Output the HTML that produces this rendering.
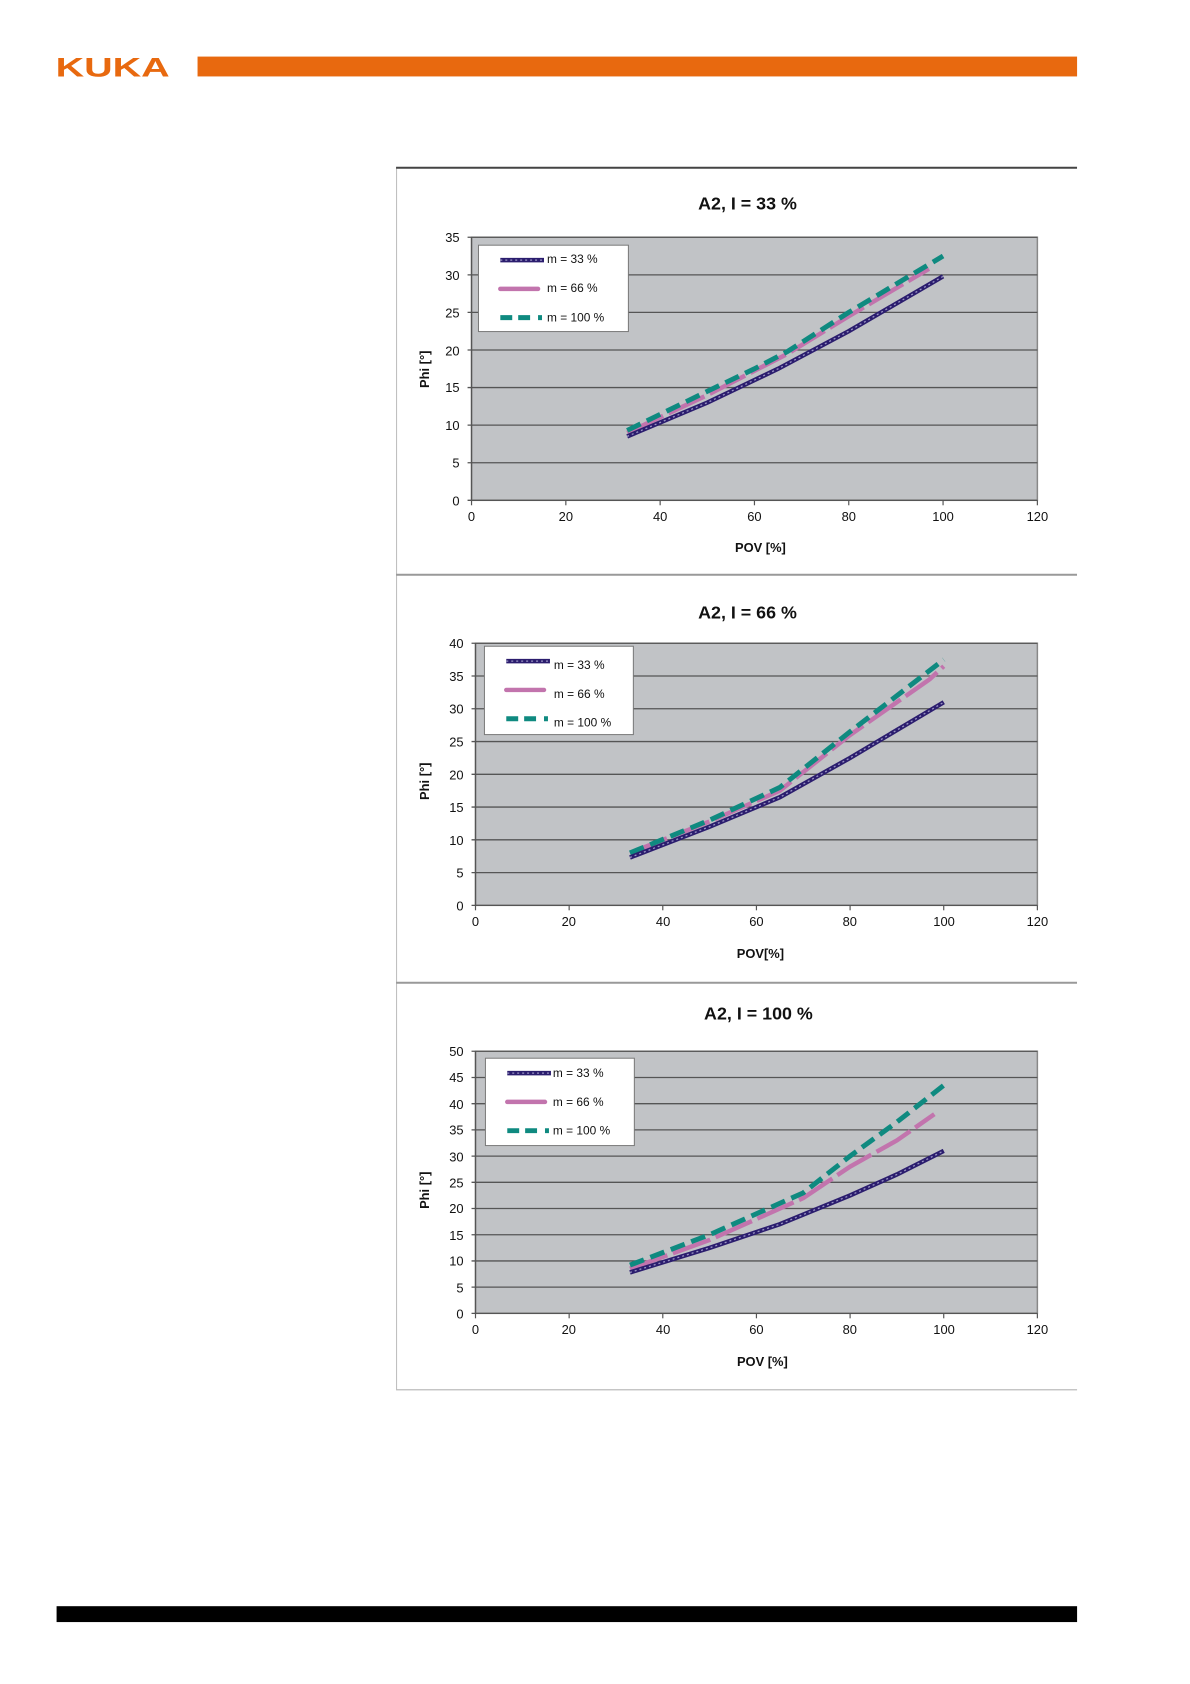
<!DOCTYPE html>
<html><head><meta charset="utf-8"><style>
html,body{margin:0;padding:0;background:#fff;}
svg{display:block;}
text{font-family:"Liberation Sans",Arial,sans-serif;}
</style></head><body>
<svg id="s" width="1190" height="1684" viewBox="0 0 1190 1684" xmlns="http://www.w3.org/2000/svg">
<rect width="1190" height="1684" fill="#fff"/>
<g transform="scale(0.9927)">
<text x="56" y="77" font-size="27" font-weight="bold" fill="#e8690f" textLength="115" lengthAdjust="spacingAndGlyphs">KUKA</text>
<rect x="199" y="57" width="886" height="20" fill="#e8690f"/>
<rect x="57" y="1618" width="1028" height="16" fill="#000"/>
<rect x="399.5" y="169" width="690" height="1231" fill="#fff" stroke="#bbb" stroke-width="1"/>
<line x1="399" y1="169" x2="1085" y2="169" stroke="#444" stroke-width="2"/>
<line x1="399" y1="579" x2="1085" y2="579" stroke="#999" stroke-width="2"/>
<line x1="399" y1="990" x2="1085" y2="990" stroke="#999" stroke-width="2"/>
<line x1="399" y1="1400" x2="1085" y2="1400" stroke="#bbb" stroke-width="1"/>
<rect x="1085" y="160" width="10" height="1250" fill="#fff"/>

<g id="c1"></g><g id="c2"></g><g id="c3"></g>

<g font-size="13" fill="#111" text-anchor="end">
<text x="463" y="509">0</text><text x="463" y="471">5</text><text x="463" y="433">10</text><text x="463" y="395">15</text><text x="463" y="358">20</text><text x="463" y="320">25</text><text x="463" y="282">30</text><text x="463" y="244">35</text>
<text x="467" y="917">0</text><text x="467" y="884">5</text><text x="467" y="851">10</text><text x="467" y="818">15</text><text x="467" y="785">20</text><text x="467" y="752">25</text><text x="467" y="719">30</text><text x="467" y="686">35</text><text x="467" y="653">40</text>
<text x="467" y="1328">0</text><text x="467" y="1302">5</text><text x="467" y="1275">10</text><text x="467" y="1249">15</text><text x="467" y="1222">20</text><text x="467" y="1196">25</text><text x="467" y="1170">30</text><text x="467" y="1143">35</text><text x="467" y="1117">40</text><text x="467" y="1090">45</text><text x="467" y="1064">50</text>
</g>
<g font-size="13" fill="#111" text-anchor="middle">
<text x="475" y="525">0</text><text x="570" y="525">20</text><text x="665" y="525">40</text><text x="760" y="525">60</text><text x="855" y="525">80</text><text x="950" y="525">100</text><text x="1045" y="525">120</text>
<text x="479" y="933">0</text><text x="573" y="933">20</text><text x="668" y="933">40</text><text x="762" y="933">60</text><text x="856" y="933">80</text><text x="951" y="933">100</text><text x="1045" y="933">120</text>
<text x="479" y="1344">0</text><text x="573" y="1344">20</text><text x="668" y="1344">40</text><text x="762" y="1344">60</text><text x="856" y="1344">80</text><text x="951" y="1344">100</text><text x="1045" y="1344">120</text>
</g>
<g font-weight="bold" text-anchor="middle" fill="#111">
<text x="753" y="211" font-size="18">A2,  I = 33 %</text>
<text x="753" y="623" font-size="18">A2,  I = 66 %</text>
<text x="764" y="1027" font-size="18">A2,  I = 100 %</text>
<text x="766" y="556" font-size="13">POV [%]</text>
<text x="766" y="965" font-size="13">POV[%]</text>
<text x="768" y="1376" font-size="13">POV [%]</text>
<text transform="translate(432,372) rotate(-90)" font-size="13">Phi [°]</text>
<text transform="translate(432,787) rotate(-90)" font-size="13">Phi [°]</text>
<text transform="translate(432,1199) rotate(-90)" font-size="13">Phi [°]</text>
</g>
<g id="leg"></g>
<g font-size="12" fill="#111">
<text x="551" y="265">m = 33 %</text><text x="551" y="294">m = 66 %</text><text x="551" y="324">m = 100 %</text>
<text x="558" y="674">m = 33 %</text><text x="558" y="703">m = 66 %</text><text x="558" y="732">m = 100 %</text>
<text x="557" y="1085">m = 33 %</text><text x="557" y="1114">m = 66 %</text><text x="557" y="1143">m = 100 %</text>
</g>
</g>
</svg>
<script>
var NS="http://www.w3.org/2000/svg";
function el(p,t,a){var e=document.createElementNS(NS,t);for(var k in a)e.setAttribute(k,a[k]);p.appendChild(e);return e;}
var charts=[
 {g:"c1",x0:475,x1:1045,y0:504,y1:239,ymax:35,step:5,leg:[482,247,151,87],
  s:[[[33,8.5],[50,13],[65,17.5],[80,22.5],[100,29.8]],
     [[33,9],[50,14],[67,19.5],[80,24.5],[97,30.8]],
     [[33,9.3],[50,14.5],[60,17.5],[67,19.8],[80,25],[92,29.5],[100,32.5]]]},
 {g:"c2",x0:479,x1:1045,y0:912,y1:648,ymax:40,step:5,leg:[488,651,150,89],
  s:[[[33,7.3],[50,12],[65,16.5],[80,22.5],[100,31]],
     [[33,8],[50,12.8],[65,17.5],[80,26],[97,34.5],[100,36.5]],
     [[33,8],[50,13],[65,18],[80,26.5],[100,37.5]]]},
 {g:"c3",x0:479,x1:1045,y0:1323,y1:1059,ymax:50,step:5,leg:[489,1066,150,88],
  s:[[[33,7.8],[50,12.5],[65,17],[80,22.5],[90,26.5],[100,31]],
     [[33,8.5],[50,14],[60,18],[70,22],[80,28],[90,33],[98,38]],
     [[33,9.2],[50,15],[60,19],[70,23],[80,30],[90,36.5],[100,43.5]]]}
];
var cols=["#2b1d6e","#c274ad","#0f8a80"];
charts.forEach(function(c){
 var g=document.getElementById(c.g);
 var W=c.x1-c.x0,H=c.y0-c.y1;
 el(g,"rect",{x:c.x0,y:c.y1,width:W,height:H,fill:"#c1c3c6",stroke:"#888","stroke-width":1.5});
 for(var v=0;v<=c.ymax;v+=c.step){var y=c.y0-v/c.ymax*H;
  el(g,"line",{x1:c.x0-4,x2:c.x1,y1:y,y2:y,stroke:"#555","stroke-width":1.3});}
 for(var i=0;i<=6;i++){var x=c.x0+i*W/6;el(g,"line",{x1:x,x2:x,y1:c.y0,y2:c.y0+5,stroke:"#555","stroke-width":1.2});}
 el(g,"line",{x1:c.x0,x2:c.x0,y1:c.y1,y2:c.y0,stroke:"#555","stroke-width":1.3});
 function pts(s){return s.map(function(p){return (c.x0+p[0]/120*W).toFixed(1)+","+(c.y0-p[1]/c.ymax*H).toFixed(1);}).join(" ");}
 el(g,"polyline",{points:pts(c.s[1]),fill:"none",stroke:cols[1],"stroke-width":4.5,"stroke-dasharray":"40 6"});
 el(g,"polyline",{points:pts(c.s[2]),fill:"none",stroke:cols[2],"stroke-width":5,"stroke-dasharray":"15 7"});
 el(g,"polyline",{points:pts(c.s[0]),fill:"none",stroke:cols[0],"stroke-width":4.5});
 el(g,"polyline",{points:pts(c.s[0]),fill:"none",stroke:"#9a94c4","stroke-width":1.3,"stroke-dasharray":"2 3"});
 var L=c.leg,lg=document.getElementById("leg");
 el(lg,"rect",{x:L[0],y:L[1],width:L[2],height:L[3],fill:"#fff",stroke:"#777","stroke-width":1});
 var lx=L[0]+22,ly=L[1]+15;
 el(lg,"line",{x1:lx,x2:lx+44,y1:ly,y2:ly,stroke:cols[0],"stroke-width":4.5});
 el(lg,"line",{x1:lx,x2:lx+44,y1:ly,y2:ly,stroke:"#9a94c4","stroke-width":1.3,"stroke-dasharray":"2 3"});
 el(lg,"line",{x1:lx,x2:lx+38,y1:ly+29,y2:ly+29,stroke:cols[1],"stroke-width":4.5,"stroke-linecap":"round"});
 el(lg,"line",{x1:lx,x2:lx+44,y1:ly+58,y2:ly+58,stroke:cols[2],"stroke-width":5,"stroke-dasharray":"12 6 12 8 4 40"});
});
</script>
</body></html>
